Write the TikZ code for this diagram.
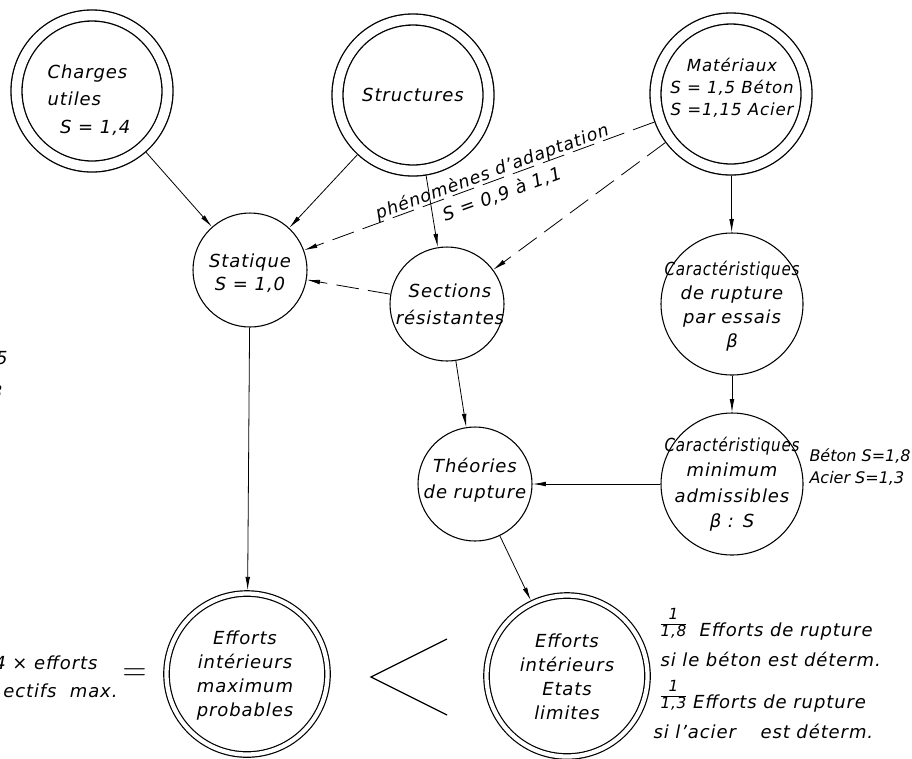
\documentclass[tikz,border=0pt]{standalone}
\usepackage{fontspec}
\setmainfont{DejaVu Sans}[LetterSpace=5.0]
\usepackage{graphicx}
\usetikzlibrary{arrows.meta}

\newcommand{\frc}[2]{{\fontsize{11.5}{11.5}\selectfont\renewcommand{\arraystretch}{1.05}\begin{tabular}[b]{@{}c@{}}#1\\\hline #2\end{tabular}}}
\newcommand{\narrow}[1]{\scalebox{0.84}[1]{#1}}

\tikzset{every picture/.style={line width=0.75pt}}
\tikzset{
  bigring/.style={circle, draw, double, line width=1pt, double distance=7.25pt, minimum size=113.25pt, inner sep=0pt, outer sep=4.6pt},
  ring/.style={circle, draw, double, line width=0.9pt, double distance=3.2pt, minimum size=120.75pt, inner sep=0pt, outer sep=2.5pt},
  disc/.style={circle, draw, line width=0.8pt, inner sep=0pt},
  txt/.style={font=\fontsize{13.5}{18}\selectfont\itshape, align=center, inner sep=0pt},
  flow/.style={-{Latex[length=10pt,width=3.5pt]}, line width=0.6pt},
  dflow/.style={flow, dash pattern=on 17pt off 7pt},
}

\begin{document}
\begin{tikzpicture}[x=0.75pt,y=0.75pt,yscale=-1,xscale=1]
\useasboundingbox (0,0) rectangle (912,758);
\clip (0,0) rectangle (912,758);
% Circles
\node[bigring] (charges) at (92,91) {};
\node[bigring] (structures) at (413,95) {};
\node[bigring] (materiaux) at (731,94) {};
\node[disc, minimum size=85.5pt] (statique) at (250,270) {};
\node[disc, minimum size=85.5pt] (sections) at (447,304) {};
\node[disc, minimum size=106.5pt] (rupture) at (732,304) {};
\node[disc, minimum size=106.5pt] (minimum) at (732,484) {};
\node[disc, minimum size=85.5pt] (theories) at (475,484) {};
\node[ring] (probables) at (247,674) {};
\node[ring] (limites) at (567,676) {};
% Texts in the circles
\node[txt, align=left] (charges-t) at (89,100) {Charges\\[2.6pt]utiles\\[2.6pt]\hspace*{0.7em}S = 1,4};
\node[txt] (structures-t) at (413,95) {Structures};
\node[txt, font=\fontsize{12.5}{16.5}\selectfont\itshape] (materiaux-t) at (732,88) {Matériaux\\S = 1,5 Béton\\S =1,15 Acier};
\node[txt, font=\fontsize{13.5}{17}\selectfont\itshape] (statique-t) at (250,273) {Statique\\S = 1,0};
\node[txt, font=\fontsize{13.5}{20}\selectfont\itshape] (sections-t) at (450,304) {Sections\\résistantes};
\node[txt] (rupture-t) at (732,306) {\narrow{Caractéristiques}\\de rupture\\par essais\\β};
\node[txt, font=\fontsize{13.5}{19}\selectfont\itshape] (minimum-t) at (732,484) {\narrow{Caractéristiques}\\minimum\\admissibles\\β : S};
\node[txt, font=\fontsize{13.5}{19.5}\selectfont\itshape] (theories-t) at (475,480) {Théories\\de rupture};
\node[txt] (probables-t) at (245,676) {Efforts\\intérieurs\\maximum\\probables};
\node[txt] (limites-t) at (567,677) {Efforts\\intérieurs\\Etats\\limites};
% Label of the dashed line
\node[txt, font=\fontsize{13}{17}\selectfont\itshape, rotate=20, anchor=base] (adaptation) at (494,177) {phénomènes d'adaptation};
\node[txt, rotate=20] (adaptation-s) at (502,194) {S = 0,9 à 1,1};
% Notes on the side
\node[txt, align=left, font=\fontsize{12}{16}\selectfont\itshape\addfontfeature{LetterSpace=0}, anchor=west] (coef) at (809,467) {Béton S=1,8\\Acier S=1,3};
\node[txt, anchor=base west] (note18) at (660,636) {\frc{1}{1,8}\ \ Efforts de rupture};
\node[txt, anchor=base west] (note18b) at (660,666) {si le béton est déterm.};
\node[txt, anchor=base west] (note13) at (660,708) {\frc{1}{1,3}\ Efforts de rupture};
\node[txt, anchor=base west] (note13b) at (653,738) {si l'acier \quad est déterm.};
% Cut off at the left edge
\node[txt, anchor=east] (left5) at (8,358) {5};
\node[txt, anchor=east] (left3) at (3,392) {3};
\node[txt, anchor=east] (fois) at (98,663) {4 × efforts};
\node[txt, anchor=east] (effectifs) at (118,691) {ectifs \ max.};
% Comparison signs
\node[font=\fontsize{26}{26}\selectfont] (egal) at (134.5,675) {$=$};
\draw[line width=0.9pt] (447,639) -- (371,677) -- (447,715);
% Connectors
\draw[flow] (charges) -- (statique);
\draw[flow] (structures) -- (statique);
\draw[flow] (structures) -- (sections);
\draw[dflow] (materiaux) -- (statique);
\draw[dflow] (materiaux) -- (sections);
\draw[dflow] (sections) -- (statique);
\draw[flow] (materiaux) -- (rupture);
\draw[flow] (rupture) -- (minimum);
\draw[flow] (minimum) -- (theories);
\draw[flow] (sections) -- (theories);
\draw[flow] (theories) -- (limites);
\draw[flow] (statique) -- (probables);
\end{tikzpicture}
\end{document}
